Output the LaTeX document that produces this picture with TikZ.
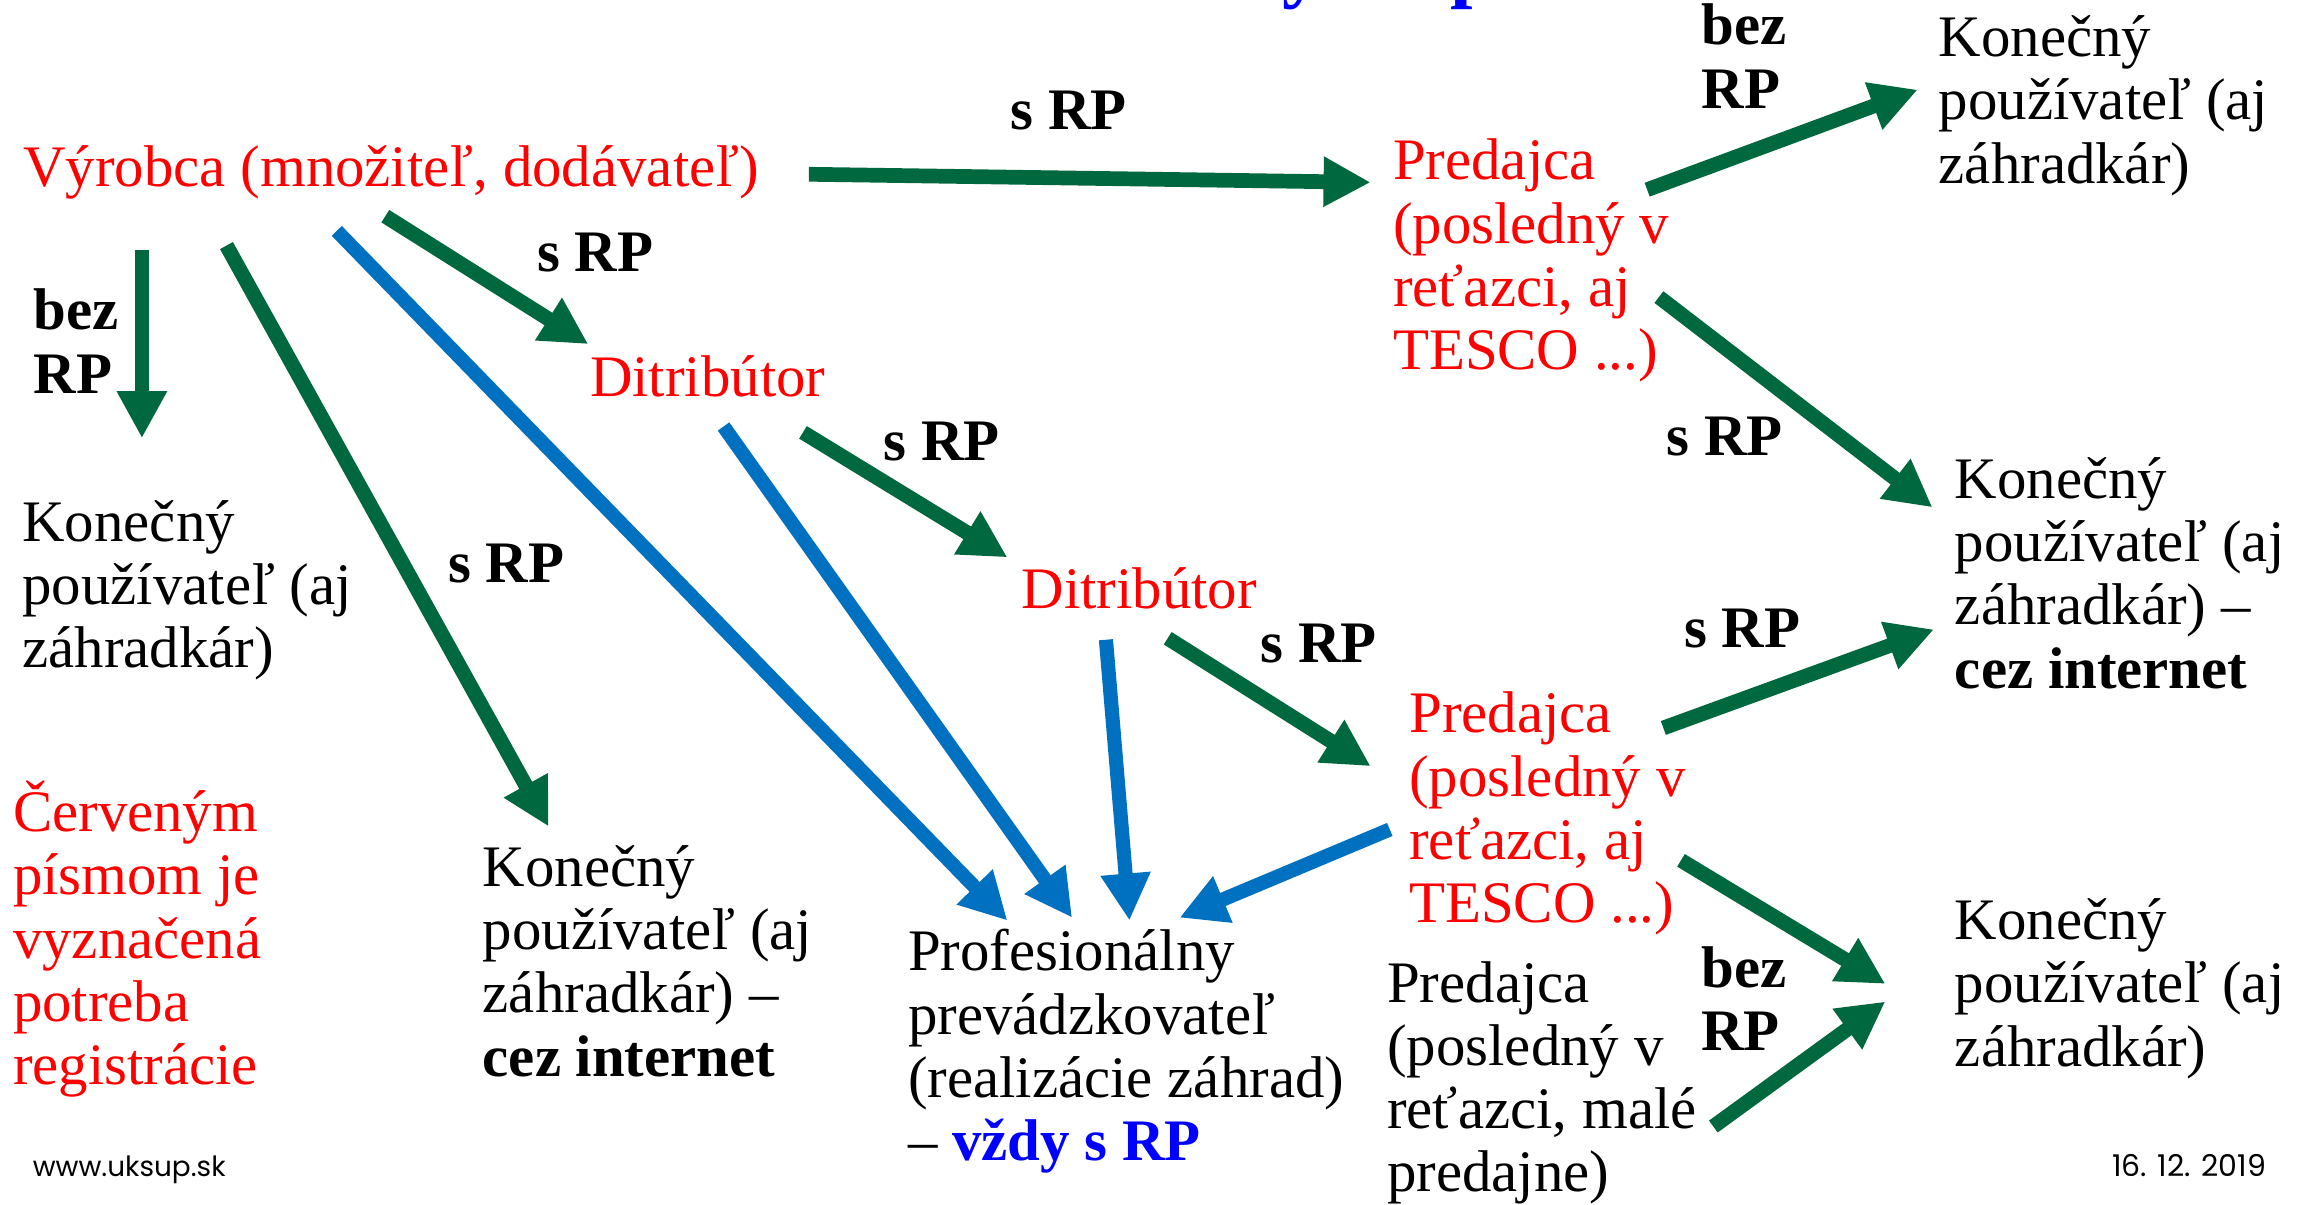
\documentclass[tikz,border=0pt]{standalone}
\usepackage{fontspec}
\setmainfont{Liberation Serif}
\newfontfamily\footfont{Poppins}
\usetikzlibrary{arrows.meta}
\definecolor{arrgreen}{RGB}{0,104,62}
\definecolor{arrblue}{RGB}{0,112,192}
\definecolor{txtblue}{RGB}{0,0,255}
\definecolor{txtred}{RGB}{255,0,0}
\begin{document}
\begin{tikzpicture}[x=0.025cm,y=-0.025cm,
  txt/.style={anchor=base west, inner sep=0pt, align=left, font=\fontsize{28.45}{30.6}\selectfont},
  redtxt/.style={txt, text=txtred},
  lbl/.style={txt, font=\fontsize{28.45}{30.6}\selectfont\bfseries},
  foot/.style={anchor=base west, inner sep=0pt, font=\footfont\fontsize{13.5}{15}\selectfont},
  garrow/.style={draw=arrgreen, line width=0.25cm, line cap=butt, -{Triangle[length=0.8cm,width=0.8cm]}},
  barrow/.style={draw=arrblue, line width=0.24cm, line cap=butt, -{Triangle[length=0.8cm,width=0.8cm]}}]
\fill[white] (0,0) rectangle (1568,819);
\useasboundingbox (0,0) rectangle (1568,819);
% title fragments (cut off at top)
\begin{scope}
\clip (0,0) rectangle (1568,819);
\node[anchor=base west, inner sep=0pt, text=txtblue, font=\fontsize{39}{44}\selectfont\bfseries] (ttl1) at (872,-5) {y};
\node[anchor=base west, inner sep=0pt, text=txtblue, font=\fontsize{39}{44}\selectfont\bfseries] (ttl2) at (986,-5) {p};
\end{scope}
% texts (base = baseline of last line)
\node[redtxt] (vyrobca) at (15.6,127) {Výrobca (množiteľ, dodávateľ)};
\node[lbl] (srp1) at (687,88.4) {s RP};
\node[redtxt] (pred1) at (947,251.4) {Predajca\\(posledný v\\reťazci, aj\\TESCO ...)};
\node[lbl] (bez1) at (1157,73.6) {bez\\RP};
\node[txt] (kon1) at (1318,124.5) {Konečný\\používateľ (aj\\záhradkár)};
\node[lbl] (srp2) at (365,184.7) {s RP};
\node[redtxt] (dis1) at (401,269.3) {Ditribútor};
\node[lbl] (bez2) at (22.7,267.4) {bez\\RP};
\node[txt] (kon2) at (15,454.2) {Konečný\\používateľ (aj\\záhradkár)};
\node[lbl] (srp3) at (304.6,396) {s RP};
\node[lbl] (srp4) at (600.4,313.2) {s RP};
\node[redtxt] (dis2) at (694.4,414) {Ditribútor};
\node[lbl] (srp5) at (856.8,450.5) {s RP};
\node[lbl] (srp6) at (1133,310) {s RP};
\node[txt] (kon3) at (1329,468) {Konečný\\používateľ (aj\\záhradkár) –\\\textbf{cez internet}};
\node[lbl] (srp7) at (1144.8,440.6) {s RP};
\node[redtxt] (pred2) at (958,627.5) {Predajca\\(posledný v\\reťazci, aj\\TESCO ...)};
\node[redtxt] (cerv) at (8.6,737.5) {Červeným\\písmom je\\vyznačená\\potreba\\registrácie};
\node[txt] (kon4) at (328,731.8) {Konečný\\používateľ (aj\\záhradkár) –\\\textbf{cez internet}};
\node[txt] (prof) at (617.2,789.3) {Profesionálny\\prevádzkovateľ\\(realizácie záhrad)\\– \textcolor{txtblue}{\textbf{vždy s RP}}};
\node[txt] (pred3) at (943,810.5) {Predajca\\(posledný v\\reťazci, malé\\predajne)};
\node[lbl] (bez3) at (1156.6,714.5) {bez\\RP};
\node[txt] (kon5) at (1329,725) {Konečný\\používateľ (aj\\záhradkár)};
\node[foot] (www) at (22,800) {www.uksup.sk};
\node[foot, font=\footfont\fontsize{14.5}{16}\selectfont] (date) at (1436,800) {16. 12. 2019};
% arrow end points
\coordinate (g1s) at (550,118.5); \coordinate (g1e) at (932,124);
\coordinate (g2s) at (1120,129);  \coordinate (g2e) at (1304,61);
\coordinate (g3s) at (1128,202);  \coordinate (g3e) at (1314,345);
\coordinate (g4s) at (262,147);   \coordinate (g4e) at (400,234);
\coordinate (g5s) at (96.5,170);  \coordinate (g5e) at (96.5,298);
\coordinate (g6s) at (154,167);   \coordinate (g6e) at (373,562);
\coordinate (b1s) at (229,157);   \coordinate (b1e) at (685,626);
\coordinate (b2s) at (492,290);   \coordinate (b2e) at (729,624);
\coordinate (g7s) at (546,294);   \coordinate (g7e) at (685,379);
\coordinate (b3s) at (752,435);   \coordinate (b3e) at (768,626);
\coordinate (g8s) at (794,434);   \coordinate (g8e) at (932,521);
\coordinate (b4s) at (945,564);   \coordinate (b4e) at (802,624);
\coordinate (g9s) at (1131,495);  \coordinate (g9e) at (1315,428);
\coordinate (g10s) at (1143,585); \coordinate (g10e) at (1282,669);
\coordinate (g11s) at (1165,766); \coordinate (g11e) at (1282,681);
% arrows
\draw[garrow] (g1s) -- (g1e);
\draw[garrow] (g2s) -- (g2e);
\draw[garrow] (g3s) -- (g3e);
\draw[garrow] (g4s) -- (g4e);
\draw[garrow] (g5s) -- (g5e);
\draw[garrow] (g6s) -- (g6e);
\draw[barrow] (b1s) -- (b1e);
\draw[barrow] (b2s) -- (b2e);
\draw[garrow] (g7s) -- (g7e);
\draw[barrow] (b3s) -- (b3e);
\draw[garrow] (g8s) -- (g8e);
\draw[barrow] (b4s) -- (b4e);
\draw[garrow] (g9s) -- (g9e);
\draw[garrow] (g10s) -- (g10e);
\draw[garrow] (g11s) -- (g11e);
\end{tikzpicture}
\end{document}
